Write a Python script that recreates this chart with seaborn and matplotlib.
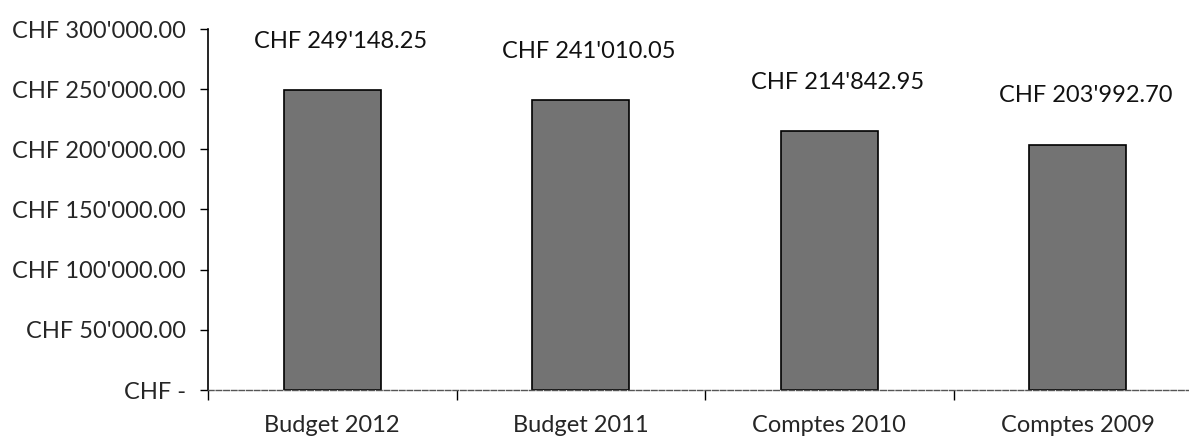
import matplotlib
matplotlib.use("Agg")
import matplotlib.pyplot as plt
import seaborn as sns
import pandas as pd
from matplotlib.ticker import FuncFormatter, FixedLocator

categories = ["Budget 2012", "Budget 2011", "Comptes 2010", "Comptes 2009"]
values = [249148.25, 241010.05, 214842.95, 203992.70]
yticks = [0, 50000, 100000, 150000, 200000, 250000, 300000]

sns.set_style("white")
plt.rcParams['font.family'] = ['Lato', 'DejaVu Sans']

df = pd.DataFrame({"cat": categories, "val": values})

fig = plt.figure(figsize=(11.89, 4.36), dpi=100)
ax = fig.add_axes([208/1189, 1-390/436, (1202-208)/1189, (390-29)/436])

sns.barplot(data=df, x="cat", y="val", ax=ax, color="#737373",
            edgecolor="black", linewidth=1.2, width=0.39, saturation=1)

def swiss(v):
    s = f"{v:,.2f}".replace(",", "'")
    return "CHF " + s

def fmt(v, pos):
    if abs(v) < 1e-6:
        return "CHF -"
    return swiss(v)

ax.set_ylim(0, 300000)
ax.set_xlim(-0.5, 3.5)
ax.yaxis.set_major_locator(FixedLocator(yticks))
ax.yaxis.set_major_formatter(FuncFormatter(fmt))
ax.tick_params(axis="y", which="major", direction="out", length=6, width=1,
               labelsize=17, pad=10, left=True, color="black")
ax.tick_params(axis="x", which="major", length=0, labelsize=17, pad=18)
ax.xaxis.set_minor_locator(FixedLocator([-0.5, 0.5, 1.5, 2.5, 3.5]))
ax.tick_params(axis="x", which="minor", direction="out", length=7, width=1,
               bottom=True, color="black")
ax.set_xlabel("")
ax.set_ylabel("")

for sp in ["top", "right"]:
    ax.spines[sp].set_visible(False)
ax.spines["left"].set_color("black")
ax.spines["left"].set_linewidth(1.2)
ax.spines["bottom"].set_color("#555555")
ax.spines["bottom"].set_linewidth(1)
ax.spines["bottom"].set_linestyle((0, (4, 1.5)))

for i, v in enumerate(values):
    ax.annotate(swiss(v), xy=(i, v), xytext=(6, 35), textcoords="offset points",
                ha="center", va="center", fontsize=17, color="#111111")

fig.savefig("out.png", dpi=100)
